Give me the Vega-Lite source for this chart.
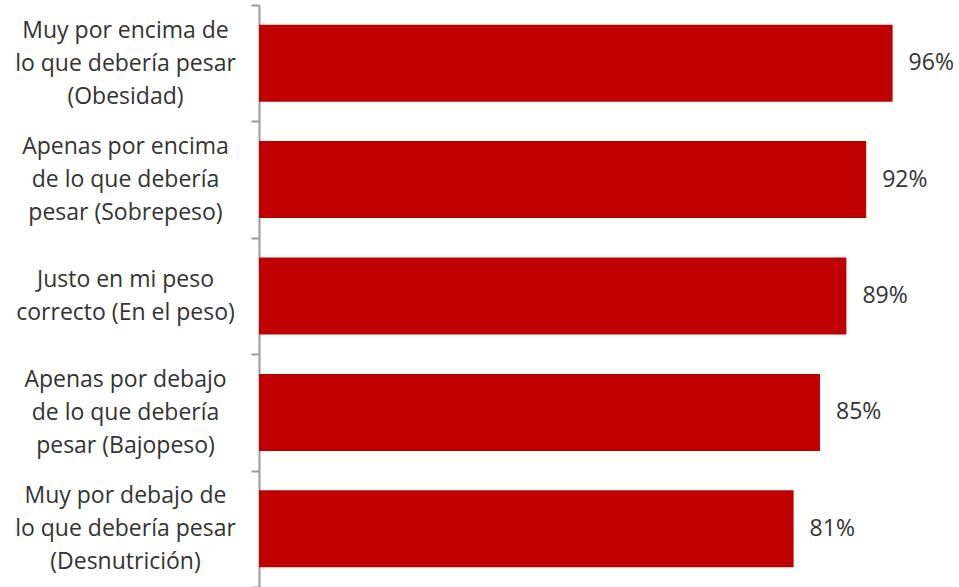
{
  "$schema": "https://vega.github.io/schema/vega-lite/v6.json",
  "width": 660,
  "height": 582,
  "autosize": {"type": "none"},
  "padding": {"left": 259, "top": 5, "right": 40, "bottom": 0},
  "background": "white",
  "config": {"view": {"stroke": null}, "font": "Open Sans"},
  "data": {
    "values": [
      {"cat": "Muy por encima de|lo que debería pesar|(Obesidad)", "value": 0.96, "order": 1},
      {"cat": "Apenas por encima|de lo que debería|pesar (Sobrepeso)", "value": 0.92, "order": 2},
      {"cat": "Justo en mi peso|correcto (En el peso)", "value": 0.89, "order": 3},
      {"cat": "Apenas por debajo|de lo que debería|pesar (Bajopeso)", "value": 0.85, "order": 4},
      {"cat": "Muy por debajo de|lo que debería pesar|(Desnutrición)", "value": 0.81, "order": 5}
    ]
  },
  "encoding": {
    "x": {
      "field": "value",
      "type": "quantitative",
      "scale": {"domain": [0, 1]},
      "axis": null
    }
  },
  "resolve": {"axis": {"y": "independent"}},
  "layer": [
    {
      "mark": {"type": "bar", "color": "#C00000", "size": 77},
      "encoding": {
        "y": {
          "field": "cat",
          "type": "nominal",
          "sort": {"field": "order"},
          "scale": {"paddingInner": 0, "paddingOuter": 0},
          "axis": {
            "orient": "left",
            "title": null,
            "domainColor": "#9a9a9a",
            "domainWidth": 2,
            "tickColor": "#9a9a9a",
            "tickWidth": 2,
            "tickSize": 8,
            "tickBand": "extent",
            "labelAlign": "center",
            "labelBaseline": "middle",
            "labelPadding": 126,
            "labelLimit": 300,
            "labelFontSize": 23,
            "labelLineHeight": 33,
            "labelOffset": -33,
            "labelColor": "#333333",
            "labelFont": "Open Sans",
            "labelExpr": "indexof(datum.label, 'Justo') >= 0 ? '' : split(datum.label, '|')"
          }
        }
      }
    },
    {
      "mark": {"type": "text", "align": "left", "baseline": "middle", "dx": 16, "fontSize": 23, "color": "#333333", "font": "Open Sans"},
      "encoding": {
        "y": {
          "field": "cat",
          "type": "nominal",
          "sort": {"field": "order"},
          "axis": {
            "orient": "left",
            "title": null,
            "domain": false,
            "ticks": false,
            "labelAlign": "center",
            "labelBaseline": "middle",
            "labelPadding": 134,
            "labelLimit": 300,
            "labelFontSize": 23,
            "labelLineHeight": 33,
            "labelOffset": -16.5,
            "labelColor": "#333333",
            "labelFont": "Open Sans",
            "labelExpr": "indexof(datum.label, 'Justo') >= 0 ? split(datum.label, '|') : ''"
          }
        },
        "text": {"field": "value", "type": "quantitative", "format": ".0%"}
      }
    }
  ]
}
